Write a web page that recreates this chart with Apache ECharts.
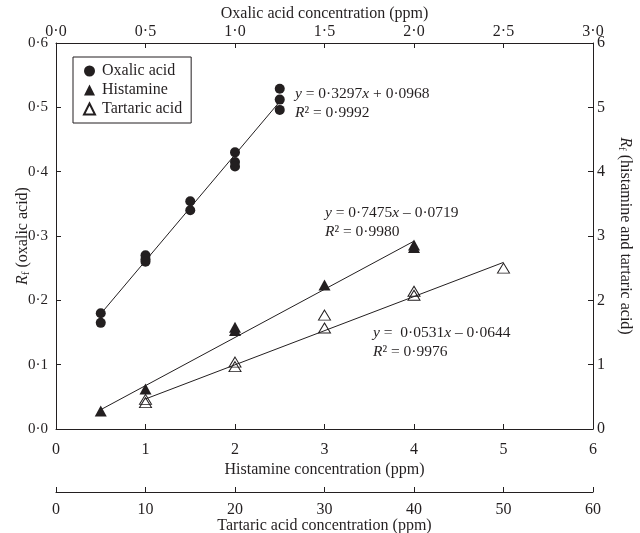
<!DOCTYPE html>
<html>
<head>
<meta charset="utf-8">
<script src="https://cdn.jsdelivr.net/npm/echarts@6/dist/echarts.min.js"></script>
<style>html,body{margin:0;padding:0;background:#fff}#c{width:640px;height:533px}</style>
</head>
<body>
<div id="c"></div>
<script>
// Oxalic acid (top axis, ppm) vs Rf (left axis)
const oxalicX = [0.25, 0.25, 0.5, 0.5, 0.5, 0.75, 0.75, 1.0, 1.0, 1.0, 1.25, 1.25, 1.25];
const oxalicY = [0.180, 0.165, 0.270, 0.264, 0.260, 0.354, 0.340, 0.430, 0.415, 0.408, 0.529, 0.512, 0.496];
// Histamine (bottom axis, ppm) vs Rf (right axis)
const histX = [0.5, 1, 2, 2, 3, 4, 4];
const histY = [0.28, 0.62, 1.53, 1.58, 2.24, 2.82, 2.86];
// Tartaric acid (lower axis, ppm) vs Rf (right axis)
const tartX = [10, 10, 20, 20, 30, 30, 40, 40, 50];
const tartY = [0.46, 0.41, 1.04, 0.97, 1.77, 1.57, 2.14, 2.08, 2.50];
// Fitted lines (end points)
const oxalicFitX = [0.25, 1.25], oxalicFitY = [0.179, 0.509];
const histFitX = [0.5, 4], histFitY = [0.30, 2.92];
const tartFitX = [10, 50], tartFitY = [0.467, 2.59];
// Axis ranges
const oxalicAxis = [0, 3, 0.5];
const histAxis = [0, 6, 1];
const tartAxis = [0, 60, 10];
const rfLeft = [0, 0.6, 0.1];
const rfRight = [0, 6, 1];

const FONT = 'Liberation Serif';
const INK = '#231f20';
const FS = 16;
const zip = (a, b) => a.map((v, i) => [v, b[i]]);
const dot1 = v => v.toFixed(1).replace('.', '·');
const common = {
  axisLine: {show: true, onZero: false, lineStyle: {color: INK, width: 1}},
  axisTick: {show: true, inside: true, length: 5, lineStyle: {color: INK}},
  splitLine: {show: false},
  nameLocation: 'middle',
  nameMoveOverlap: false,
  nameTextStyle: {fontFamily: FONT, fontSize: FS, color: INK},
};
const lbl = (margin, fmt, fs) => ({fontFamily: FONT, fontSize: fs || FS, color: INK, margin: margin, formatter: fmt, showMinLabel: true, showMaxLabel: true});
const rfRich = {i: {fontFamily: FONT, fontSize: FS, fontStyle: 'italic', color: INK},
                s: {fontFamily: FONT, fontSize: 11, color: INK, padding: [7, 0, 0, 0]}};

const chart = echarts.init(document.getElementById('c'), null, {renderer: 'canvas'});
chart.setOption({
  animation: false,
  backgroundColor: '#fff',
  grid: {left: 56, right: 47, top: 43, bottom: 104, containLabel: false, outerBoundsMode: 'none'},
  legend: {
    data: ['Oxalic acid', 'Histamine', 'Tartaric acid'],
    orient: 'vertical', left: 73, top: 57,
    padding: [6, 9, 6, 10], itemGap: 3,
    itemWidth: 11, itemHeight: 11,
    borderColor: INK, borderWidth: 1,
    textStyle: {fontFamily: FONT, fontSize: 16, color: INK, padding: [0, 0, 0, 2]}
  },
  xAxis: [
    Object.assign({}, common, {
      type: 'value', position: 'bottom', min: histAxis[0], max: histAxis[1], interval: histAxis[2],
      name: 'Histamine concentration (ppm)', nameGap: 33,
      axisLabel: lbl(13, v => String(v))
    }),
    Object.assign({}, common, {
      type: 'value', position: 'top', min: oxalicAxis[0], max: oxalicAxis[1], interval: oxalicAxis[2],
      name: 'Oxalic acid concentration (ppm)', nameGap: 21,
      axisLabel: lbl(3, dot1)
    }),
    Object.assign({}, common, {
      type: 'value', position: 'bottom', offset: 63, min: tartAxis[0], max: tartAxis[1], interval: tartAxis[2],
      name: 'Tartaric acid concentration (ppm)', nameGap: 26,
      axisLabel: lbl(10, v => String(v))
    })
  ],
  yAxis: [
    Object.assign({}, common, {
      type: 'value', position: 'left', min: rfLeft[0], max: rfLeft[1], interval: rfLeft[2],
      name: '{i|R}{s|f} (oxalic acid)', nameGap: 24, nameRotate: 90,
      nameTextStyle: {fontFamily: FONT, fontSize: FS, color: INK, rich: rfRich},
      axisLabel: lbl(8, dot1, 15)
    }),
    Object.assign({}, common, {
      type: 'value', position: 'right', min: rfRight[0], max: rfRight[1], interval: rfRight[2],
      name: '{i|R}{s|f} (histamine and tartaric acid)', nameGap: 23, nameRotate: -90,
      nameTextStyle: {fontFamily: FONT, fontSize: FS, color: INK, rich: rfRich},
      axisLabel: lbl(4, v => String(v))
    })
  ],
  series: [
    {type: 'line', name: 'oxFit', xAxisIndex: 1, yAxisIndex: 0, data: zip(oxalicFitX, oxalicFitY),
     symbol: 'none', lineStyle: {color: INK, width: 1}, z: 1, silent: true},
    {type: 'line', name: 'hiFit', xAxisIndex: 0, yAxisIndex: 1, data: zip(histFitX, histFitY),
     symbol: 'none', lineStyle: {color: INK, width: 1}, z: 1, silent: true},
    {type: 'line', name: 'taFit', xAxisIndex: 2, yAxisIndex: 1, data: zip(tartFitX, tartFitY),
     symbol: 'none', lineStyle: {color: INK, width: 1}, z: 1, silent: true},
    {type: 'scatter', name: 'Oxalic acid', xAxisIndex: 1, yAxisIndex: 0, data: zip(oxalicX, oxalicY),
     symbol: 'circle', symbolSize: 10, itemStyle: {color: INK, opacity: 1}, z: 3},
    {type: 'scatter', name: 'Histamine', xAxisIndex: 0, yAxisIndex: 1, data: zip(histX, histY),
     symbol: 'triangle', symbolSize: [12, 11], itemStyle: {color: INK, opacity: 1}, z: 3},
    {type: 'scatter', name: 'Tartaric acid', xAxisIndex: 2, yAxisIndex: 1, data: zip(tartX, tartY),
     symbol: 'triangle', symbolSize: [12, 10], itemStyle: {color: 'rgba(255,255,255,0)', borderColor: INK, borderWidth: 1, opacity: 1}, z: 3}
  ],
  graphic: [
    {type: 'text', left: 295, top: 84, style: {text: '{i|y} = 0·3297{i|x} + 0·0968\n{i|R}² = 0·9992',
      fontFamily: FONT, fontSize: 15.5, fill: INK, lineHeight: 19,
      rich: {i: {fontFamily: FONT, fontSize: 15.5, fontStyle: 'italic', fill: INK}}}},
    {type: 'text', left: 325, top: 203, style: {text: '{i|y} = 0·7475{i|x} – 0·0719\n{i|R}² = 0·9980',
      fontFamily: FONT, fontSize: 15.5, fill: INK, lineHeight: 19,
      rich: {i: {fontFamily: FONT, fontSize: 15.5, fontStyle: 'italic', fill: INK}}}},
    {type: 'text', left: 373, top: 323, style: {text: '{i|y} =  0·0531{i|x} – 0·0644\n{i|R}² = 0·9976',
      fontFamily: FONT, fontSize: 15.5, fill: INK, lineHeight: 19,
      rich: {i: {fontFamily: FONT, fontSize: 15.5, fontStyle: 'italic', fill: INK}}}}
  ]
});
</script>
</body>
</html>
